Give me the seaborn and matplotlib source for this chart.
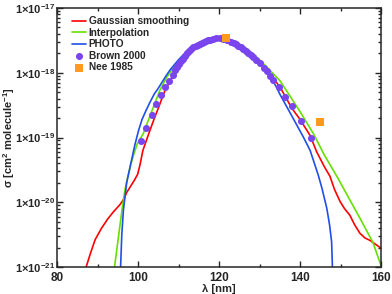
import numpy as np
import pandas as pd
import seaborn as sns
from matplotlib import pyplot as plt
from matplotlib.ticker import LogLocator, MultipleLocator, FixedLocator, NullFormatter

# values, cross sections stored as log10(sigma)
gauss_wl = [87.2, 88.2, 89.4, 91.0, 92.5, 93.9, 95.5, 96.5, 97.2, 98.2, 99.2, 99.9, 100.5, 101.2,
            102.1, 103.0, 104.0, 105.0, 106.0, 106.7, 108.0, 110.0, 112.0, 114.0, 116.0, 118.0,
            120.0, 122.0, 124.0, 126.0, 128.0, 130.0, 132.0, 134.0, 135.5, 138.0, 140.0, 142.5,
            144.1, 146.0, 147.4, 148.5, 149.9, 151.0, 152.3, 153.5, 154.8, 156.0, 157.3, 159.8, 160.0]
gauss_log = [-21.0, -20.8, -20.58, -20.4, -20.26, -20.15, -20.04, -19.95, -19.85, -19.75, -19.65,
             -19.57, -19.42, -19.2, -19.04, -18.88, -18.71, -18.55, -18.38, -18.27, -18.12, -17.93,
             -17.76, -17.63, -17.54, -17.49, -17.47, -17.49, -17.55, -17.63, -17.73, -17.85, -17.98,
             -18.13, -18.27, -18.55, -18.72, -18.97, -19.22, -19.45, -19.6, -19.8, -19.99, -20.1,
             -20.2, -20.35, -20.48, -20.55, -20.59, -20.7, -20.71]

interp_wl = [94.2, 95.0, 95.6, 96.2, 96.8, 97.5, 98.2, 99.0, 99.8, 101.3, 103.0, 105.4, 107.0,
             109.0, 111.0, 113.0, 115.0, 117.0, 119.0, 121.0, 123.0, 125.0, 127.0, 129.0, 131.0,
             133.0, 135.0, 136.7, 140.0, 143.3, 146.0, 149.1, 152.0, 155.0, 158.0, 160.0]
interp_log = [-21.0, -20.62, -20.33, -20.05, -19.8, -19.6, -19.42, -19.25, -19.1, -18.94, -18.66,
              -18.27, -18.08, -17.9, -17.76, -17.64, -17.56, -17.5, -17.47, -17.47, -17.5, -17.56,
              -17.64, -17.74, -17.86, -17.99, -18.12, -18.28, -18.6, -18.94, -19.27, -19.6, -19.93,
              -20.27, -20.62, -20.98]

photo_wl = [95.7, 96.0, 96.4, 97.2, 98.4, 99.2, 100.1, 101.0, 102.0, 103.0, 104.0, 105.0, 106.0,
            107.0, 108.0, 110.0, 112.0, 114.0, 116.0, 118.0, 120.0, 122.0, 124.0, 126.0, 128.0,
            130.0, 132.0, 134.0, 135.1, 138.0, 140.8, 142.5, 144.5, 145.4, 146.6, 147.3, 147.8, 148.0]
photo_log = [-21.0, -20.5, -20.12, -19.7, -19.35, -19.12, -18.9, -18.72, -18.58, -18.45, -18.33,
             -18.24, -18.14, -18.04, -17.95, -17.8, -17.67, -17.58, -17.52, -17.48, -17.47, -17.49,
             -17.54, -17.61, -17.72, -17.85, -18.0, -18.2, -18.34, -18.67, -18.99, -19.2, -19.58,
             -19.78, -20.09, -20.35, -20.61, -21.0]

brown_wl = [100.7, 102.0, 103.5, 104.4, 105.8, 106.7, 107.6, 108.6, 109.2, 109.7, 110.2, 110.7,
            111.2, 111.7, 112.2, 112.7, 113.2, 113.7, 114.2, 114.7, 115.2, 115.7, 116.2, 116.7,
            117.2, 117.7, 118.5, 119.3, 120.2, 121.0, 122.0, 123.0, 123.6, 124.2, 124.8, 125.4,
            126.0, 126.6, 127.2, 127.8, 128.4, 129.2, 130.1, 131.0, 131.8, 132.6, 133.4, 134.8,
            136.2, 138.1, 140.2, 142.6]
brown_log = [-19.06, -18.86, -18.66, -18.49, -18.34, -18.22, -18.13, -18.03, -17.96, -17.91, -17.86,
             -17.82, -17.78, -17.74, -17.7, -17.67, -17.64, -17.61, -17.59, -17.57, -17.55, -17.54,
             -17.52, -17.51, -17.5, -17.49, -17.48, -17.47, -17.47, -17.48, -17.49, -17.52, -17.54,
             -17.56, -17.58, -17.6, -17.63, -17.66, -17.69, -17.72, -17.75, -17.8, -17.85, -17.92,
             -17.98, -18.05, -18.11, -18.22, -18.37, -18.52, -18.75, -19.0]

nee_wl = [121.7, 145.0]
nee_log = [-17.46, -18.76]

y_exps = [-21, -20, -19, -18, -17]

sns.set_style("ticks")
plt.rcParams['font.family'] = ['Liberation Sans', 'DejaVu Sans']
plt.rcParams['font.weight'] = 'bold'
plt.rcParams['mathtext.fontset'] = 'custom'
plt.rcParams['mathtext.rm'] = 'Liberation Sans:bold'
plt.rcParams['mathtext.bf'] = 'Liberation Sans:bold'
plt.rcParams['mathtext.default'] = 'bf'

fig = plt.figure(figsize=(3.92, 2.94), dpi=100)
ax = fig.add_axes([0.1454, 0.0918, 0.8266, 0.8810])

lines = [("Gaussian smoothing", gauss_wl, gauss_log, "#ff0000"),
         ("Interpolation", interp_wl, interp_log, "#66e000"),
         ("PHOTO", photo_wl, photo_log, "#1f4fe8")]
for name, wl, lg, col in lines:
    df = pd.DataFrame({"wl": wl, "sigma": 10.0 ** np.array(lg)})
    sns.lineplot(data=df, x="wl", y="sigma", ax=ax, color=col, lw=1.2,
                 estimator=None, sort=False, label=name)

brown = pd.DataFrame({"wl": brown_wl, "sigma": 10.0 ** np.array(brown_log)})
sns.scatterplot(data=brown, x="wl", y="sigma", ax=ax, color="#7a45ee", marker="o",
                s=26, linewidth=0, label="Brown 2000", zorder=3)
nee = pd.DataFrame({"wl": nee_wl, "sigma": 10.0 ** np.array(nee_log)})
sns.scatterplot(data=nee, x="wl", y="sigma", ax=ax, color="#ff9a1f", marker="s",
                s=36, linewidth=0, label="Nee 1985", zorder=4)

ax.set_yscale("log")
ax.set_xlim(80, 160)
ax.set_ylim(1e-21, 1e-17)
ax.xaxis.set_major_locator(MultipleLocator(20))
ax.xaxis.set_minor_locator(MultipleLocator(10))
ax.yaxis.set_major_locator(FixedLocator([10.0 ** e for e in y_exps]))
ax.yaxis.set_minor_locator(LogLocator(base=10, subs=np.arange(2, 10), numticks=20))
ax.yaxis.set_minor_formatter(NullFormatter())
ax.set_yticklabels([r"$1{\times}10^{%d}$" % e for e in y_exps])
ax.tick_params(which="both", direction="in", top=True, right=True, width=1.0)
ax.tick_params(which="major", length=4)
ax.tick_params(which="minor", length=2)
ax.tick_params(axis="y", pad=1.5, labelsize=8)
ax.tick_params(axis="x", pad=3.5, labelsize=8.5)
for sp in ax.spines.values():
    sp.set_linewidth(1.1)

ax.set_xlabel("λ [nm]", fontsize=8, fontweight="bold")
ax.set_ylabel(r"σ [cm$^{2}$ molecule$^{-1}$]", fontsize=8, fontweight="bold")
ax.xaxis.set_label_coords(0.5, -0.064)
ax.yaxis.set_label_coords(-0.122, 0.5)

ax.legend(loc="upper left", bbox_to_anchor=(0.02, 1.0), frameon=False, handlelength=1.4,
          handletextpad=0.3, labelspacing=0.15, borderaxespad=0.4,
          prop={"weight": "bold", "size": 7.3})

plt.savefig("out.png", dpi=100)
